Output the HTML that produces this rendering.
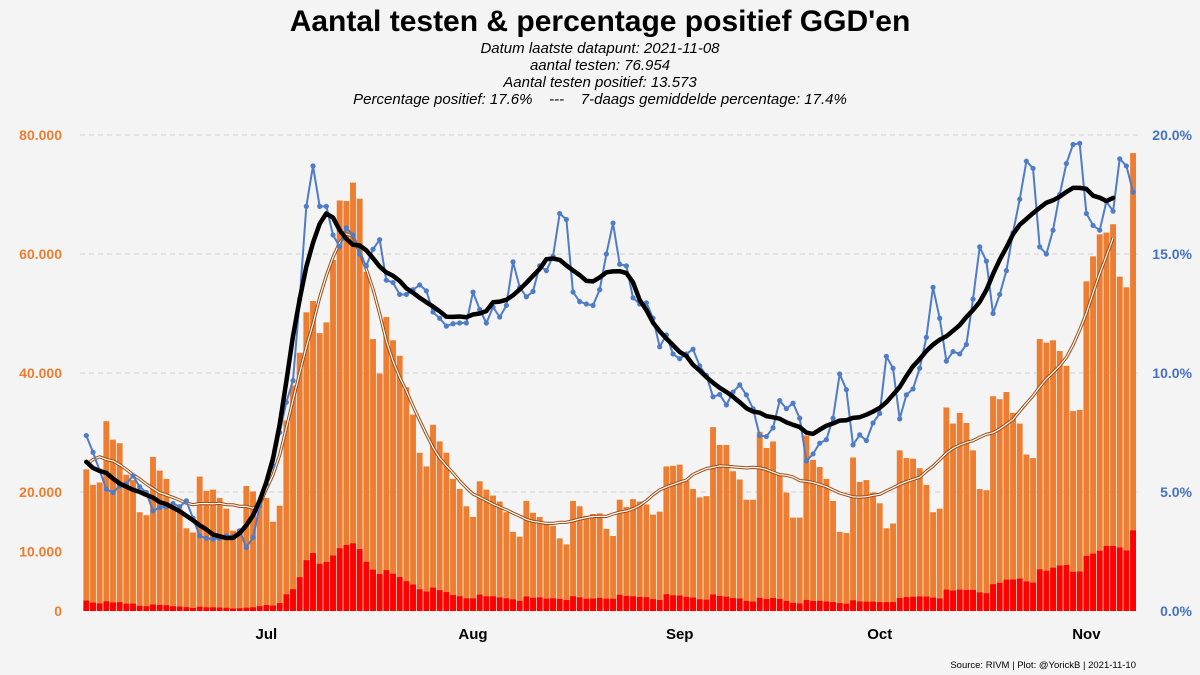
<!DOCTYPE html>
<html><head><meta charset="utf-8">
<style>
body{margin:0;background:#f4f4f4;}
svg{display:block;font-family:"Liberation Sans",Arial,sans-serif;}
</style></head>
<body>
<svg id="chart" width="1200" height="675" viewBox="0 0 1200 675">
<rect width="1200" height="675" fill="#f4f4f4"/>
<text x="600" y="31" text-anchor="middle" font-size="30" font-weight="bold" fill="#000">Aantal testen &amp; percentage positief GGD'en</text>
<g font-size="15" font-style="italic" fill="#000" text-anchor="middle">
<text x="600" y="53">Datum laatste datapunt: 2021-11-08</text>
<text x="600" y="70">aantal testen: 76.954</text>
<text x="600" y="87">Aantal testen positief: 13.573</text>
<text x="600" y="104" xml:space="preserve">Percentage positief: 17.6%    ---    7-daags gemiddelde percentage: 17.4%</text>
</g>
<g id="grid"></g>
<g id="bars"></g>
<g id="lines"></g>
<g id="axes"></g>
<text x="1136" y="668" text-anchor="end" font-size="9.5" fill="#000">Source: RIVM | Plot: @YorickB |  2021-11-10</text>
</svg>
<script>
const totals = [23.8,21.2,21.6,31.9,28.8,28.2,22.9,22.0,16.6,16.1,25.9,23.6,22.2,17.7,17.1,13.9,13.2,22.6,20.2,20.4,19.0,17.2,13.5,13.8,21.0,20.1,18.5,19.0,15.0,17.7,32.0,37.9,43.4,50.2,52.1,46.7,48.5,59,
69.0,68.9,72.0,69.3,57,45.7,39.9,49.4,45.5,42.9,37.6,33.0,26.6,24.3,31.3,28.5,26.6,22.2,20.5,17.6,15.8,21.8,20.4,19.4,18.4,16.6,13.3,12.5,18.5,16.5,15.8,14.6,14.3,12.2,11.2,18.5,17.6,16.0,16.3,16.4,13.8,
12.6,18.7,17.5,18.8,18.4,17.9,16.2,16.7,24.3,24.4,24.6,21.9,20.5,19.1,19.3,30.9,27.9,27.9,23.5,22.1,18.7,18.7,30.1,27.4,28.5,23.0,19.9,15.7,15.7,29.5,25.4,24.2,22.2,18.5,13.3,13.1,25.8,21.7,22.0,
19.9,18.1,13.9,14.7,27.0,25.7,25.6,24.0,21.2,16.6,17.2,34.2,31.5,33.3,31.6,27.0,20.5,20.3,36.1,35.6,36.8,33.3,31.5,26.3,25.7,45.7,45.1,45.5,43.7,41.2,33.6,33.8,55.4,59.6,63.3,63.6,65.0,56.2,54.4,76.954];
const pctPositive = [7.37,6.67,5.9,5.12,4.98,5.26,5.33,5.68,5.22,4.98,4.21,4.35,4.38,4.52,4.38,4.63,3.9,3.16,3.06,3.02,3.06,3.16,3.13,3.37,2.67,3.09,4.42,
5.33,6.1,7.5,8.77,9.68,13.1,17.0,18.7,17.0,17.0,15.8,15.3,
16.1,15.8,15.0,14.5,15.2,15.6,13.9,13.8,13.3,13.3,13.5,13.7,13.45,12.56,12.3,11.97,12.07,12.1,12.1,13.4,12.67,12.1,12.77,12.35,12.84,14.67,13.6,13.2,13.43,14.5,14.3,14.9,16.7,16.45,13.4,13.0,12.9,12.84,13.5,15.0,
16.3,14.57,14.5,13.16,12.9,12.95,12.3,11.1,11.6,10.8,10.6,10.8,11.0,10.3,9.9,9.0,9.1,8.66,9.2,9.5,9.08,8.5,7.37,7.33,7.7,8.84,8.5,8.73,8.1,6.3,6.6,7.05,7.2,8.1,9.96,9.3,6.98,7.4,7.16,
7.9,8.3,10.7,10.2,8.07,9.08,9.33,10.2,11.5,13.6,12.3,10.5,10.9,10.8,11.2,13.1,15.3,14.7,12.5,13.3,14.3,15.9,17.3,18.9,18.6,15.3,15.0,16.0,17.5,18.8,19.6,19.65,16.7,16.2,16.0,17.2,16.8,19.0,18.7,17.6];
const leftTicks = [0,10000,20000,40000,60000,80000];
const leftTickLabels = ["0","10.000","20.000","40.000","60.000","80.000"];
const rightTicks = [0,5,10,15,20];
const rightTickLabels = ["0.0%","5.0%","10.0%","15.0%","20.0%"];
const monthIdx = [27,58,89,119,150];
const monthLabels = ["Jul","Aug","Sep","Oct","Nov"];

const NS="http://www.w3.org/2000/svg";
const X0=83, STEP=6.667, Y0=611, YT=135;
const xc=i=>X0+STEP*(i+0.5);
const yL=v=>Y0-(v/80000)*(Y0-YT);
const yR=p=>Y0-(p/20)*(Y0-YT);
function mk(tag,attrs,parent){const e=document.createElementNS(NS,tag);for(const k in attrs)e.setAttribute(k,attrs[k]);parent.appendChild(e);return e;}
const grid=document.getElementById('grid'),bars=document.getElementById('bars'),lines=document.getElementById('lines'),axes=document.getElementById('axes');

[20000,40000,60000,80000].forEach(v=>{
  const l=mk('line',{x1:80,x2:1140,y1:yL(v),y2:yL(v),stroke:'#cfcfcf','stroke-width':1,'stroke-dasharray':'5,4'},grid);
  
  
});

totals.forEach((t,i)=>{
  const v=t*1000, x=X0+STEP*i+0.4, w=STEP-0.8;
  const r=mk('rect',{x:x,y:yL(v),width:w,height:Y0-yL(v),fill:'#ed7d31'},bars);
  
  
  const pv=v*pctPositive[i]/100;
  const r2=mk('rect',{x:x,y:yL(pv),width:w,height:Y0-yL(pv),fill:'#ff0000'},bars);
  
  
});

function ma(arr,i){let s=0,n=0;for(let k=i-3;k<=i+3;k++){if(k>=0&&k<arr.length){s+=arr[k];n++;}}return s/n;}
const N=totals.length;
let bp='',kp='';
for(let i=0;i<=N-4;i++){
  bp+=(i?'L':'M')+xc(i).toFixed(1)+','+yL(ma(totals,i)*1000).toFixed(1);
  kp+=(i?'L':'M')+xc(i).toFixed(1)+','+yR(ma(pctPositive,i)).toFixed(1);
}
const b1=mk('path',{d:bp,fill:'none',stroke:'#9c4a12','stroke-width':3.2,'stroke-linejoin':'round'},lines);


const b2=mk('path',{d:bp,fill:'none',stroke:'#fff','stroke-width':1.2,'stroke-linejoin':'round'},lines);



let pp='';
pctPositive.forEach((p,i)=>{pp+=(i?'L':'M')+xc(i).toFixed(1)+','+yR(p).toFixed(1);});
const pl=mk('path',{d:pp,fill:'none',stroke:'#4f7cc6','stroke-width':2,'stroke-linejoin':'round'},lines);


pctPositive.forEach((p,i)=>{
  const c=mk('circle',{cx:xc(i),cy:yR(p),r:2.6,fill:'#4f7cc6'},lines);
  
  
});
const kl=mk('path',{d:kp,fill:'none',stroke:'#000','stroke-width':4.5,'stroke-linejoin':'round','stroke-linecap':'round'},lines);



leftTicks.forEach((v,i)=>{
  const t=mk('text',{x:62,y:yL(v)+5,'text-anchor':'end','font-size':14,'font-weight':'bold',fill:'#ed7d31'},axes);
  t.textContent=leftTickLabels[i];
  
  
});
rightTicks.forEach((v,i)=>{
  const t=mk('text',{x:1192,y:yR(v)+5,'text-anchor':'end','font-size':14,'font-weight':'bold',fill:'#4472c4'},axes);
  t.textContent=rightTickLabels[i];
  
  
});
monthIdx.forEach((d,i)=>{
  const t=mk('text',{x:xc(d),y:639,'text-anchor':'middle','font-size':15,'font-weight':'bold',fill:'#000'},axes);
  t.textContent=monthLabels[i];
  
  
});
</script>
</body></html>
